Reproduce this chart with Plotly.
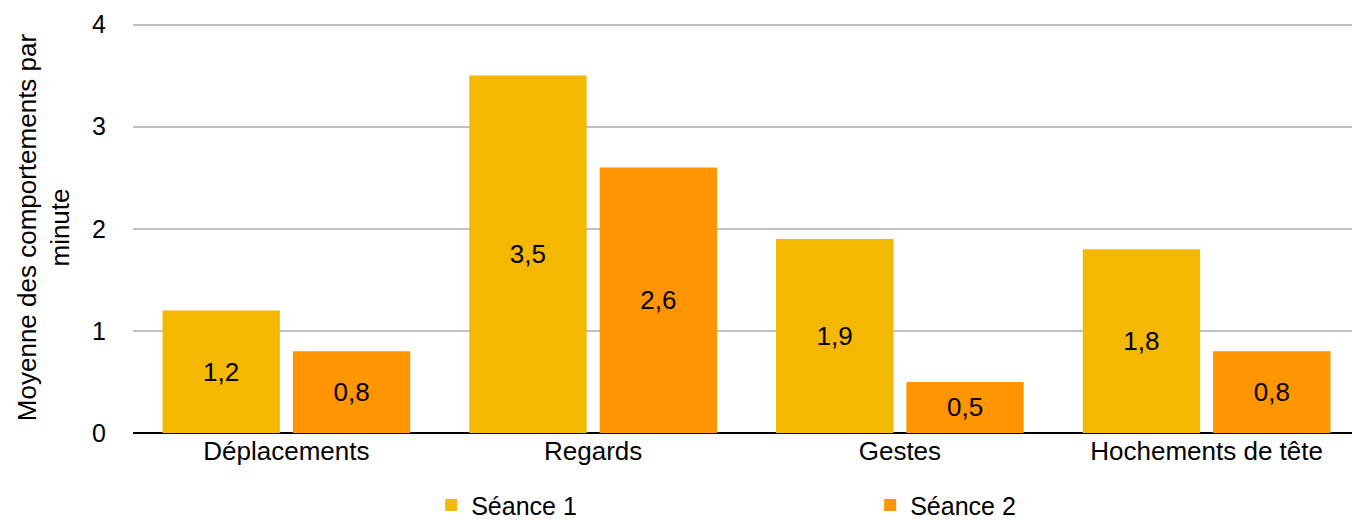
import plotly.graph_objects as go

categories = ["Déplacements", "Regards", "Gestes", "Hochements de tête"]
seance1 = [1.2, 3.5, 1.9, 1.8]
seance2 = [0.8, 2.6, 0.5, 0.8]
y_ticks = [0, 1, 2, 3, 4]

FONT = "Liberation Sans, Arial, Helvetica, sans-serif"

fig = go.Figure()
fig.add_trace(go.Bar(x=categories, y=seance1, name="Séance 1",
                     marker=dict(color="#F5B800", line=dict(width=0)),
                     texttemplate="%{y:.1f}", textposition="inside",
                     insidetextanchor="middle",
                     textfont=dict(size=26, color="black", family=FONT)))
fig.add_trace(go.Bar(x=categories, y=seance2, name="Séance 2",
                     marker=dict(color="#FF9500", line=dict(width=0)),
                     texttemplate="%{y:.1f}", textposition="inside",
                     insidetextanchor="middle",
                     textfont=dict(size=26, color="black", family=FONT)))

fig.update_layout(
    width=1352, height=512,
    margin=dict(l=125, r=0, t=14, b=87, autoexpand=False),
    paper_bgcolor="white", plot_bgcolor="white",
    separators=", ",
    font=dict(family=FONT, size=25, color="black"),
    barmode="group", bargap=0.15, bargroupgap=0.1,
    uniformtext=dict(mode="show", minsize=10),
    legend=dict(orientation="h", x=0.243, y=-0.176, xanchor="left", yanchor="middle",
                entrywidth=394, entrywidthmode="pixels",
                font=dict(size=25, family=FONT)),
    xaxis=dict(showgrid=False, ticks="", tickfont=dict(size=26)),
    yaxis=dict(range=[0, 4.025], tickvals=y_ticks, showgrid=True, gridcolor="#C0C0C0",
               gridwidth=2, zeroline=True, zerolinecolor="black", zerolinewidth=2,
               ticks="", ticklabelstandoff=26, tickfont=dict(size=25),
               ticklabeloverflow="allow",
               title=dict(text="Moyenne des comportements par<br>minute",
                          font=dict(size=26), standoff=14)),
)

fig.write_html("out.html")
